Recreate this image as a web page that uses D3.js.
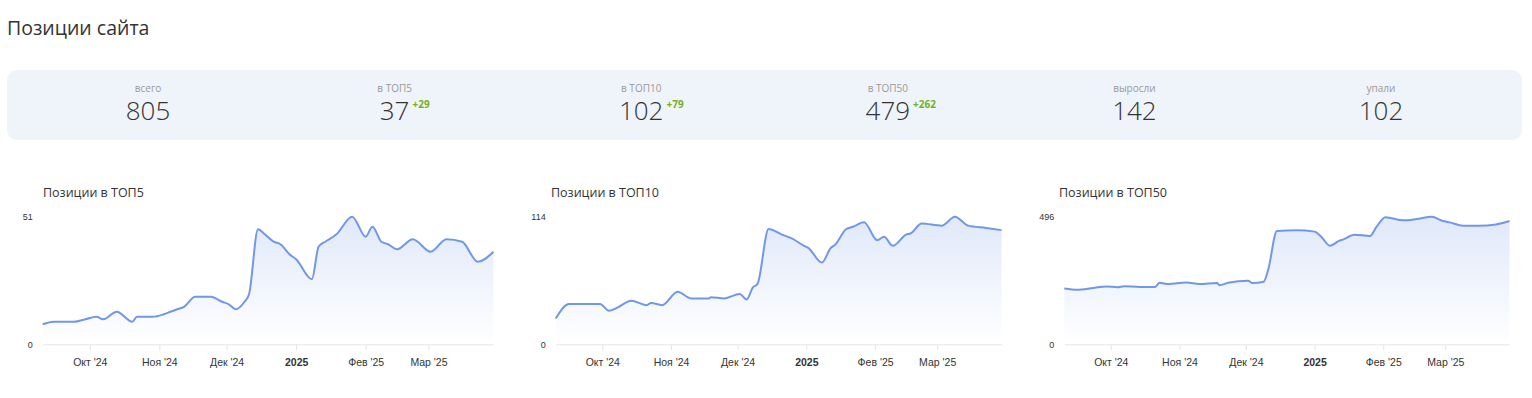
<!DOCTYPE html>
<html>
<head>
<meta charset="utf-8">
<script src="https://cdn.jsdelivr.net/npm/d3@7"></script>
<style>
    body { margin: 0; background: #fff; }
    svg { display: block; }
</style>
</head>
<body>
<div id="page"></div>
<script>
//summary numbers for the panel
const statLabels = ["всего", "в ТОП5", "в ТОП10", "в ТОП50", "выросли", "упали"];
const statValues = [805, 37, 102, 479, 142, 102];
const statDeltas = [null, 29, 79, 262, null, null];

//chart titles
const chartTitles = ["Позиции в ТОП5", "Позиции в ТОП10", "Позиции в ТОП50"];

//month ticks on the x axis
const monthTicks = ["2024-10-01", "2024-11-01", "2024-12-01", "2025-01-01", "2025-02-01", "2025-03-01"];
const monthLabels = ["Окт '24", "Ноя '24", "Дек '24", "2025", "Фев '25", "Мар '25"];

//TOP5 series
const top5Dates = ["2024-09-10","2024-09-15","2024-09-24","2024-09-29","2024-10-04","2024-10-07","2024-10-13","2024-10-20","2024-10-22","2024-10-29",
    "2024-11-03","2024-11-06","2024-11-09","2024-11-12","2024-11-17","2024-11-24","2024-11-29","2024-12-02","2024-12-05","2024-12-09",
    "2024-12-11","2024-12-15","2024-12-18","2024-12-22","2024-12-25","2024-12-29","2025-01-01","2025-01-08","2025-01-11","2025-01-14",
    "2025-01-19","2025-01-26","2025-02-01","2025-02-04","2025-02-08","2025-02-11","2025-02-15","2025-02-22","2025-03-02","2025-03-09",
    "2025-03-16","2025-03-23","2025-03-30"];
const top5Values = [8,9,9,10,11,10,13,9,11,11,
    12,13,14,15,19,19,17,16,14,17,
    20,46,44,41,40,36,34,26,39,41,
    44,51,43,47,41,40,38,42,37,42,
    41,33,37];

//TOP10 series
const top10Dates = ["2024-09-10","2024-09-16","2024-09-30","2024-10-04","2024-10-08","2024-10-14","2024-10-21","2024-10-23","2024-10-28","2024-11-04",
    "2024-11-10","2024-11-18","2024-11-19","2024-11-25","2024-12-02","2024-12-05","2024-12-08","2024-12-10","2024-12-15","2024-12-21",
    "2024-12-25","2024-12-31","2025-01-02","2025-01-08","2025-01-12","2025-01-14","2025-01-19","2025-01-22","2025-01-27","2025-02-02",
    "2025-02-05","2025-02-09","2025-02-15","2025-02-17","2025-02-22","2025-03-03","2025-03-09","2025-03-15","2025-03-23","2025-03-30"];
const top10Values = [23,36,36,30,33,39,35,37,35,47,
    41,41,42,41,45,40,51,54,103,98,
    95,88,86,73,86,89,103,105,109,93,
    96,88,98,99,108,106,114,106,104,102];

//TOP50 series
const top50Dates = ["2024-09-10","2024-09-16","2024-09-23","2024-09-29","2024-10-04","2024-10-07","2024-10-14","2024-10-21","2024-10-23","2024-10-27",
    "2024-11-04","2024-11-10","2024-11-18","2024-11-19","2024-11-23","2024-12-02","2024-12-04","2024-12-09","2024-12-11","2024-12-15",
    "2024-12-24","2025-01-01","2025-01-04","2025-01-08","2025-01-12","2025-01-14","2025-01-19","2025-01-26","2025-01-29","2025-02-02",
    "2025-02-10","2025-02-16","2025-02-23","2025-02-27","2025-03-03","2025-03-09","2025-03-16","2025-03-24","2025-03-30"];
const top50Values = [217,212,219,225,222,226,223,223,239,234,
    240,234,238,230,239,247,238,243,288,440,
    443,438,418,383,402,408,426,421,457,494,
    482,487,496,482,474,461,461,466,479];

const W = 1532, H = 398;
const parseDate = d3.timeParse("%Y-%m-%d");
const lineColour = "#7097e8";

const svg = d3.select("#page")
    .append("svg")
    .attr("width", W)
    .attr("height", H)
    .style("font-family", "'Open Sans', sans-serif");

//page title
svg.append("text")
    .attr("x", 7)
    .attr("y", 35)
    .style("font-size", "19.5px")
    .attr("fill", "#333")
    .text("Позиции сайта");

//------summary panel------//
svg.append("rect")
    .attr("x", 7)
    .attr("y", 70)
    .attr("width", 1515)
    .attr("height", 70)
    .attr("rx", 10)
    .attr("fill", "#eff4fb");

const colX = d3.scalePoint()
    .domain(d3.range(statLabels.length))
    .range([148, 1381]);

const stat = svg.selectAll(".stat")
    .data(statLabels)
    .enter()
    .append("g")
    .attr("class", "stat")
    .attr("transform", (d, i) => "translate(" + colX(i) + ",0)");

stat.append("text")
    .attr("text-anchor", "middle")
    .attr("y", 92)
    .style("font-size", "10px")
    .attr("fill", "#999")
    .text(d => d);

stat.append("text")
    .attr("class", "num")
    .attr("text-anchor", "middle")
    .attr("y", 120)
    .style("font-size", "26px")
    .style("font-weight", 300)
    .attr("fill", "#333")
    .text((d, i) => statValues[i]);

//green delta next to the number
stat.each(function(d, i) {
    if (statDeltas[i] === null) return;
    const g = d3.select(this);
    const w = g.select(".num").node().getComputedTextLength();
    g.append("text")
        .attr("x", w / 2 + 3)
        .attr("y", 108)
        .style("font-size", "10px")
        .style("font-weight", "bold")
        .attr("fill", "#73b11f")
        .text("+" + statDeltas[i]);
});

//------small area charts------//
const series = [
    { dates: top5Dates, values: top5Values },
    { dates: top10Dates, values: top10Values },
    { dates: top50Dates, values: top50Values }
];
const chartLeft = [0, 508, 1016];   //container offsets
const plotLeft = [42.7, 47.7, 48.3]; //plot start inside container (label width differs)
const plotRight = 493.5;
const plotTop = 216.7, plotBottom = 344.3;

const defs = svg.append("defs");

series.forEach((s, k) => {
    const data = s.dates.map((d, i) => ({ date: parseDate(d), value: s.values[i] }));
    const maxV = d3.max(data, d => d.value);

    const g = svg.append("g")
        .attr("transform", "translate(" + chartLeft[k] + ",0)");

    const x = d3.scaleTime()
        .domain([parseDate("2024-09-10"), parseDate("2025-03-30")])
        .range([plotLeft[k], plotRight]);
    const y = d3.scaleLinear()
        .domain([0, maxV])
        .range([plotBottom, plotTop]);

    //title
    g.append("text")
        .attr("x", 43)
        .attr("y", 197)
        .style("font-size", "12.5px")
        .attr("fill", "#333")
        .text(chartTitles[k]);

    //gradient under the line
    const gradId = "grad" + k;
    const grad = defs.append("linearGradient")
        .attr("id", gradId)
        .attr("gradientUnits", "userSpaceOnUse")
        .attr("x1", 0).attr("x2", 0)
        .attr("y1", plotTop).attr("y2", plotBottom);
    grad.append("stop").attr("offset", 0).attr("stop-color", lineColour).attr("stop-opacity", 0.22);
    grad.append("stop").attr("offset", 1).attr("stop-color", lineColour).attr("stop-opacity", 0);

    const area = d3.area()
        .curve(d3.curveMonotoneX)
        .x(d => x(d.date))
        .y0(plotBottom)
        .y1(d => y(d.value));

    const line = d3.line()
        .curve(d3.curveMonotoneX)
        .x(d => x(d.date))
        .y(d => y(d.value));

    //x axis
    const xAxis = g.append("g")
        .attr("transform", "translate(0," + plotBottom + ")")
        .call(d3.axisBottom(x)
            .tickValues(monthTicks.map(parseDate))
            .tickFormat((d, i) => monthLabels[i])
            .tickSize(6)
            .tickSizeOuter(0)
            .tickPadding(8));
    xAxis.select(".domain").attr("stroke", "#e6e6e6");
    xAxis.selectAll(".tick line").attr("stroke", "#e6e6e6");
    xAxis.selectAll(".tick text")
        .attr("fill", "#333")
        .style("font-family", "'Liberation Sans', Arial, sans-serif")
        .style("font-size", "10.5px")
        .style("font-weight", (d, i) => monthLabels[i] === "2025" ? "bold" : "normal");

    //y axis, only 0 and max
    const yAxis = g.append("g")
        .attr("transform", "translate(" + plotLeft[k] + ",0)")
        .call(d3.axisLeft(y).tickValues([0, maxV]).tickSize(0).tickPadding(10));
    yAxis.select(".domain").remove();
    yAxis.selectAll(".tick text")
        .attr("fill", "#333")
        .style("font-family", "'Liberation Sans', Arial, sans-serif")
        .style("font-size", "9px");

    g.append("path")
        .datum(data)
        .attr("d", area)
        .attr("fill", "url(#" + gradId + ")");

    g.append("path")
        .datum(data)
        .attr("d", line)
        .attr("fill", "none")
        .attr("stroke", lineColour)
        .attr("stroke-width", 2);
});
</script>
</body>
</html>
